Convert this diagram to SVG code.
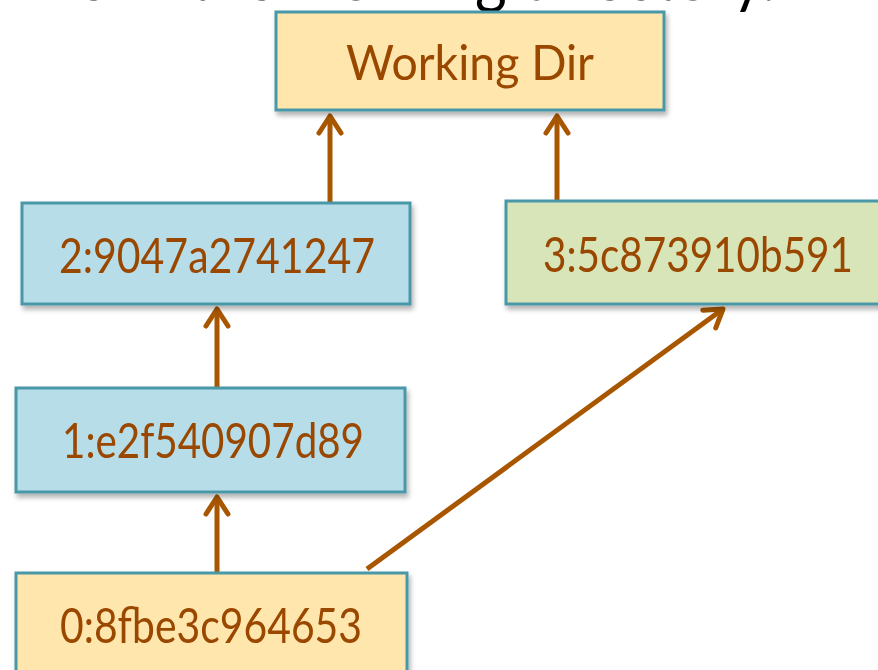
<svg xmlns="http://www.w3.org/2000/svg" width="878" height="670" viewBox="0 0 878 670">
  <defs>
    <style>
      .box { stroke: #4A98A8; stroke-width: 3; }
      .wd { fill: #FFE6AD; }
      .blue { fill: #B7DDE8; }
      .green { fill: #D7E5B8; }
      .label { font-family: Lato, "Open Sans", sans-serif; font-size: 48px; fill: #9A4600; text-anchor: middle; }
      .edge { fill: none; stroke: #A85700; stroke-width: 5; }
      .title { font-family: Lato, "Liberation Sans", sans-serif; font-size: 72px; fill: #000; }
    </style>
    <filter id="shadow" x="-10%" y="-10%" width="125%" height="130%">
      <feDropShadow dx="2" dy="4" stdDeviation="2.5" flood-color="#000" flood-opacity="0.3"/>
    </filter>
    <marker id="head" markerUnits="userSpaceOnUse" viewBox="-22 -14 26 28" refX="0" refY="0" markerWidth="26" markerHeight="28" orient="auto" overflow="visible">
      <path d="M -17 -11 L 0 0 L -17 11" fill="none" stroke="#A85700" stroke-width="5" stroke-linecap="round" stroke-linejoin="round"/>
    </marker>
  </defs>

  <!-- caption running off the top edge -->
  <text class="title" x="776" y="0" text-anchor="end" textLength="700" lengthAdjust="spacingAndGlyphs">e in the working directory.</text>

  <!-- parent links, drawn from child up to parent -->
  <g id="connectors">
    <path class="edge" d="M 330 203 L 330 116" marker-end="url(#head)"/>
    <path class="edge" d="M 557 202 L 557 116" marker-end="url(#head)"/>
    <path class="edge" d="M 217 388 L 217 309" marker-end="url(#head)"/>
    <path class="edge" d="M 217 572 L 217 497" marker-end="url(#head)"/>
    <path class="edge" d="M 367 569 L 723 309" marker-end="url(#head)"/>
  </g>

  <g id="working-dir" filter="url(#shadow)">
    <rect class="box wd" x="276" y="12" width="388" height="98"/>
    <text class="label" x="470" y="80" textLength="248" lengthAdjust="spacingAndGlyphs">Working Dir</text>
  </g>

  <g id="rev2" filter="url(#shadow)">
    <rect class="box blue" x="22" y="203" width="388" height="101"/>
    <text class="label" x="217" y="273" textLength="316" lengthAdjust="spacingAndGlyphs">2:9047a2741247</text>
  </g>

  <g id="rev3" filter="url(#shadow)">
    <rect class="box green" x="506" y="201" width="390" height="103"/>
    <text class="label" x="698" y="272" textLength="310" lengthAdjust="spacingAndGlyphs">3:5c873910b591</text>
  </g>

  <g id="rev1" filter="url(#shadow)">
    <rect class="box blue" x="16" y="388" width="389" height="104"/>
    <text class="label" x="213" y="458" textLength="302" lengthAdjust="spacingAndGlyphs">1:e2f540907d89</text>
  </g>

  <g id="rev0" filter="url(#shadow)">
    <rect class="box wd" x="16" y="573" width="391" height="110"/>
    <text class="label" x="211" y="643" textLength="302" lengthAdjust="spacingAndGlyphs">0:8fbe3c964653</text>
  </g>
</svg>
